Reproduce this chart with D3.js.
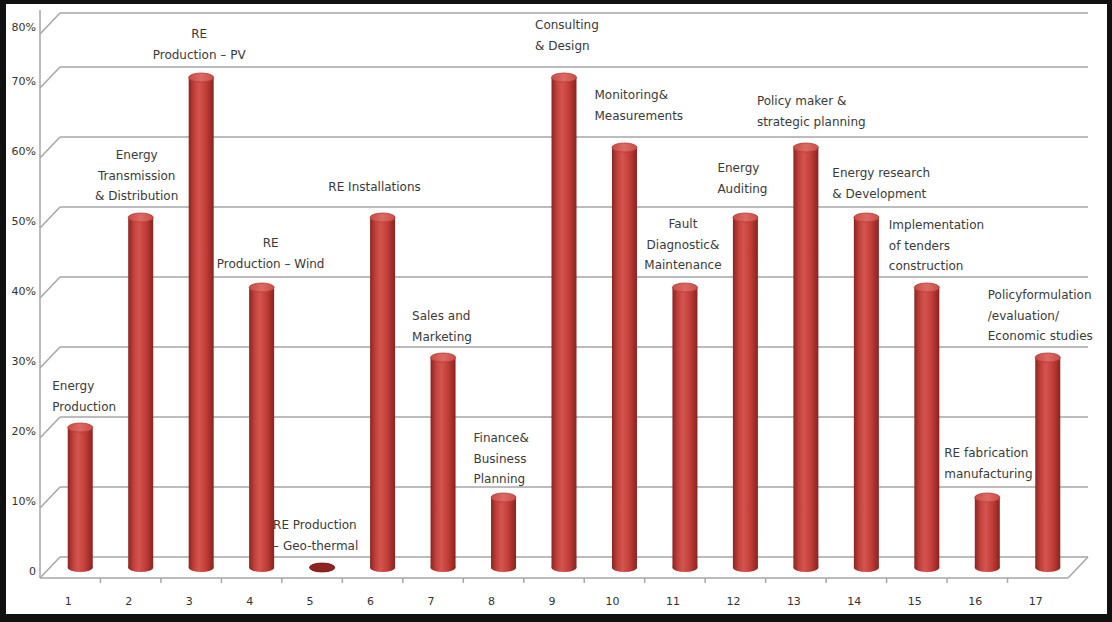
<!DOCTYPE html>
<html>
<head>
<meta charset="utf-8">
<script src="https://cdn.jsdelivr.net/npm/d3@7"></script>
<style>
  body { margin: 0; background: #fff; }
  svg { display: block; }
</style>
</head>
<body>
<svg id="chart" width="1112" height="622"></svg>
<script>
// Categories (x axis) and the share of respondents for each field
const categories = ["1","2","3","4","5","6","7","8","9","10","11","12","13","14","15","16","17"];
const shares = [0.20, 0.50, 0.70, 0.40, 0.00, 0.50, 0.30, 0.10, 0.70, 0.60, 0.40, 0.50, 0.60, 0.50, 0.40, 0.10, 0.30];
const fieldNames = [
  ["Energy", "Production"],
  ["Energy", "Transmission", "& Distribution"],
  ["RE", "Production \u2013 PV"],
  ["RE", "Production \u2013 Wind"],
  ["RE Production", "\u2013 Geo-thermal"],
  ["RE Installations"],
  ["Sales and", "Marketing"],
  ["Finance&", "Business", "Planning"],
  ["Consulting", "& Design"],
  ["Monitoring&", "Measurements"],
  ["Fault", "Diagnostic&", "Maintenance"],
  ["Energy", "Auditing"],
  ["Policy maker &", "strategic planning"],
  ["Energy research", "& Development"],
  ["Implementation", "of tenders", "construction"],
  ["RE fabrication", "manufacturing"],
  ["Policyformulation", "/evaluation/", "Economic studies"]
];
const yTicks = [0, 0.1, 0.2, 0.3, 0.4, 0.5, 0.6, 0.7, 0.8];
const yTickLabels = ["0", "10%", "20%", "30%", "40%", "50%", "60%", "70%", "80%"];

// Where each field name sits, relative to the top of its cylinder
const labelPlacement = [
  { anchor: "start",  dx: -28, dy: -37.5 },
  { anchor: "middle", dx: -4,  dy: -58.5 },
  { anchor: "middle", dx: -2,  dy: -39.5 },
  { anchor: "middle", dx: 9,   dy: -40.5 },
  { anchor: "start",  dx: -49, dy: -38.5 },
  { anchor: "middle", dx: -8,  dy: -26.5 },
  { anchor: "start",  dx: -31, dy: -37.5 },
  { anchor: "start",  dx: -30, dy: -55.5 },
  { anchor: "start",  dx: -29, dy: -48.5 },
  { anchor: "start",  dx: -30, dy: -48.5 },
  { anchor: "middle", dx: -2,  dy: -59.5 },
  { anchor: "start",  dx: -28, dy: -45.5 },
  { anchor: "start",  dx: -49, dy: -42.5 },
  { anchor: "start",  dx: -34, dy: -40.5 },
  { anchor: "start",  dx: -38, dy: -58.5 },
  { anchor: "start",  dx: -43, dy: -40.5 },
  { anchor: "start",  dx: -60, dy: -58.5 }
];

const W = 1112, H = 622;
const svg = d3.select("#chart");

// Pseudo-3D depth of the plot box
const depthX = 20, depthY = -21;
const axisLeft = 40, axisRight = 1068;

const x = d3.scaleBand().domain(categories).range([axisLeft, axisRight]);
// value -> y on the back wall
const yBack = d3.scaleLinear().domain([0, 0.7, 0.8]).range([557, 67, 13]);
const yFront = v => yBack(v) - depthY;
const yMid = v => yBack(v) - depthY / 2;

// Outer black frame
svg.append("rect").attr("x", 0).attr("y", 0).attr("width", W).attr("height", H).attr("fill", "#111");
svg.append("rect").attr("x", 6).attr("y", 4).attr("width", 1101).attr("height", 610).attr("fill", "#fff");

const grid = svg.append("g").attr("stroke", "#a6a6a6").attr("stroke-width", 1.5).attr("fill", "none");

// Back wall gridlines
grid.selectAll("line.back").data(yTicks).join("line")
  .attr("class", "back")
  .attr("x1", axisLeft + depthX).attr("x2", axisRight + depthX)
  .attr("y1", d => yBack(d)).attr("y2", d => yBack(d));

// Side wall diagonals
grid.selectAll("line.side").data(yTicks).join("line")
  .attr("class", "side")
  .attr("x1", axisLeft).attr("y1", d => yFront(d))
  .attr("x2", axisLeft + depthX).attr("y2", d => yBack(d));

// Front vertical axis
grid.append("line")
  .attr("x1", axisLeft).attr("x2", axisLeft)
  .attr("y1", yFront(0.8) - 24).attr("y2", yFront(0));

// Floor front edge and right diagonal
grid.append("line")
  .attr("x1", axisLeft).attr("x2", axisRight)
  .attr("y1", yFront(0)).attr("y2", yFront(0));
grid.append("line")
  .attr("x1", axisRight).attr("y1", yFront(0))
  .attr("x2", axisRight + depthX).attr("y2", yBack(0));

// Category tick marks
grid.selectAll("line.tick").data(categories.slice(1)).join("line")
  .attr("class", "tick")
  .attr("x1", d => x(d)).attr("x2", d => x(d))
  .attr("y1", yFront(0)).attr("y2", yFront(0) + 5);

const font = "'DejaVu Sans', Verdana, sans-serif";

// Y tick labels
svg.append("g").selectAll("text").data(yTicks).join("text")
  .attr("x", 36)
  .attr("y", d => yFront(d) - 3)
  .attr("text-anchor", "end")
  .attr("font-family", font).attr("font-size", 11).attr("fill", "#333")
  .text((d, i) => yTickLabels[i]);

// X tick labels
svg.append("g").selectAll("text").data(categories).join("text")
  .attr("x", d => x(d) + x.bandwidth() / 2 - 2)
  .attr("y", yFront(0) + 27)
  .attr("text-anchor", "middle")
  .attr("font-family", font).attr("font-size", 11).attr("fill", "#333")
  .text(d => d);

// Cylinder shading
const defs = svg.append("defs");
const side = defs.append("linearGradient").attr("id", "cylSide").attr("x1", 0).attr("x2", 1).attr("y1", 0).attr("y2", 0);
[["0%", "#8a2522"], ["22%", "#c2413c"], ["42%", "#d4554f"], ["70%", "#c13d38"], ["100%", "#892320"]]
  .forEach(([o, c]) => side.append("stop").attr("offset", o).attr("stop-color", c));
const cap = defs.append("linearGradient").attr("id", "cylCap").attr("x1", 0).attr("x2", 1).attr("y1", 0).attr("y2", 0);
[["0%", "#c64c47"], ["50%", "#dd6a64"], ["100%", "#c94e49"]]
  .forEach(([o, c]) => cap.append("stop").attr("offset", o).attr("stop-color", c));

const barW = 25, capRy = 4.5;
const cx = d => x(d) + x.bandwidth() / 2 + depthX / 2;
const bars = svg.append("g").selectAll("g").data(categories).join("g");

bars.append("ellipse")
  .attr("cx", d => cx(d)).attr("cy", yMid(0))
  .attr("rx", barW / 2).attr("ry", capRy)
  .attr("fill", "url(#cylSide)");

bars.append("rect")
  .attr("x", d => cx(d) - barW / 2)
  .attr("width", barW)
  .attr("y", (d, i) => yMid(shares[i]))
  .attr("height", (d, i) => yMid(0) - yMid(shares[i]))
  .attr("fill", "url(#cylSide)");

bars.append("ellipse")
  .attr("cx", d => cx(d))
  .attr("cy", (d, i) => yMid(shares[i]))
  .attr("rx", barW / 2).attr("ry", capRy)
  .attr("fill", (d, i) => shares[i] > 0 ? "url(#cylCap)" : "#8e2320")
  .attr("stroke", (d, i) => shares[i] > 0 ? "#b83a35" : "#6e1a18")
  .attr("stroke-width", 0.8);

// Field name annotations
const lineH = 20.5;
const labels = svg.append("g")
  .attr("font-family", font).attr("font-size", 12).attr("fill", "#3a3a3a");
categories.forEach((c, i) => {
  const p = labelPlacement[i];
  const t = labels.append("text")
    .attr("text-anchor", p.anchor)
    .attr("x", cx(c) + p.dx)
    .attr("y", yMid(shares[i]) + p.dy);
  fieldNames[i].forEach((line, k) => {
    t.append("tspan")
      .attr("x", cx(c) + p.dx)
      .attr("dy", k === 0 ? 0 : lineH)
      .text(line);
  });
});
</script>
</body>
</html>
